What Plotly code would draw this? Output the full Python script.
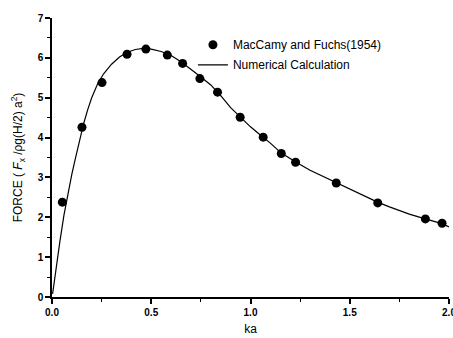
import plotly.graph_objects as go

# Experimental / analytical points (MacCamy and Fuchs 1954)
mf_ka = [0.052, 0.151, 0.252, 0.378, 0.473, 0.581, 0.658, 0.745, 0.834, 0.948,
         1.064, 1.155, 1.227, 1.432, 1.641, 1.881, 1.965]
mf_force = [2.38, 4.26, 5.38, 6.09, 6.22, 6.07, 5.86, 5.48, 5.14, 4.51,
            4.01, 3.60, 3.38, 2.86, 2.36, 1.96, 1.85]

# Numerical calculation curve
num_ka = [0.003, 0.02, 0.04, 0.06, 0.08, 0.10, 0.12, 0.14, 0.16, 0.18, 0.20,
          0.23, 0.26, 0.30, 0.34, 0.38, 0.42, 0.46, 0.50, 0.55, 0.60, 0.65,
          0.70, 0.75, 0.80, 0.85, 0.90, 0.95, 1.00, 1.06, 1.10, 1.155, 1.20,
          1.23, 1.30, 1.43, 1.50, 1.64, 1.70, 1.80, 1.88, 1.90, 1.965, 2.00]
num_force = [0.08, 0.72, 1.40, 2.05, 2.60, 3.08, 3.52, 3.95, 4.36, 4.70, 5.00,
             5.35, 5.60, 5.84, 6.02, 6.14, 6.21, 6.24, 6.22, 6.16, 6.06, 5.90,
             5.72, 5.52, 5.32, 5.05, 4.75, 4.50, 4.27, 4.02, 3.86, 3.61, 3.46,
             3.38, 3.18, 2.87, 2.72, 2.38, 2.26, 2.08, 1.96, 1.93, 1.84, 1.76]

x_ticks = [0.0, 0.5, 1.0, 1.5, 2.0]
x_tick_labels = ["0.0", "0.5", "1.0", "1.5", "2.0"]
y_ticks = [0, 1, 2, 3, 4, 5, 6, 7]

fig = go.Figure()
fig.add_trace(go.Scatter(
    x=mf_ka, y=mf_force, mode="markers", name="MacCamy and Fuchs(1954)",
    marker=dict(color="black", size=9), legendgroup="a", cliponaxis=False))
fig.add_trace(go.Scatter(
    x=num_ka, y=num_force, mode="lines", name="Numerical Calculation",
    line=dict(color="black", width=1.2), legendgroup="b", cliponaxis=False))

axis_common = dict(
    showline=True, linecolor="black", linewidth=1.5, mirror=False,
    ticks="outside", ticklen=5, tickwidth=1.5, tickcolor="black",
    showgrid=False, zeroline=False, automargin=False,
    ticklabeloverflow="allow",
    tickfont=dict(family="Arial, Liberation Sans", size=10, color="black", weight="bold"),
)

fig.update_layout(
    width=453, height=338,
    margin=dict(l=52, r=4, t=18, b=41),
    paper_bgcolor="white", plot_bgcolor="white",
    showlegend=True,
    legend=dict(x=0.355, y=0.956, xanchor="left", yanchor="top",
                font=dict(family="Arial, Liberation Sans", size=12, color="black"),
                bgcolor="rgba(0,0,0,0)", tracegroupgap=1, traceorder="grouped"),
    xaxis=dict(range=[0, 2.0], tickvals=x_ticks, ticktext=x_tick_labels,
               minor=dict(ticks="outside", ticklen=3, tickwidth=1.2,
                          tickcolor="black", dtick=0.25),
               title=dict(text="ka", standoff=8,
                          font=dict(family="Arial, Liberation Sans", size=12, color="black")),
               **axis_common),
    yaxis=dict(range=[0, 7], tickvals=y_ticks,
               minor=dict(ticks="outside", ticklen=3, tickwidth=1.2,
                          tickcolor="black", dtick=0.5),
               title=dict(text="FORCE ( <i>F</i><sub>x</sub> /ρg(H/2) a<sup>2</sup>)", standoff=12,
                          font=dict(family="Arial, Liberation Sans", size=12, color="black")),
               **axis_common),
)

fig.write_html("out.html", config={"displayModeBar": False},
               post_script="document.body.style.margin='0';")
